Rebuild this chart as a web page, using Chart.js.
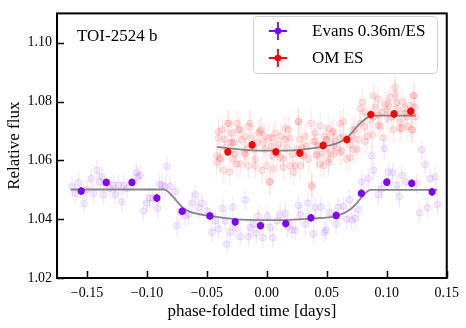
<!DOCTYPE html>
<html>
<head>
<meta charset="utf-8">
<script src="https://cdn.jsdelivr.net/npm/chart.js@4"></script>
<style>
  html, body { margin: 0; padding: 0; background: #fff; }
  #wrap { width: 466px; height: 328px; }
</style>
</head>
<body>
<div id="wrap"><canvas id="lc" width="466" height="328"></canvas></div>
<script>
// phase-folded light curves

// Evans 0.36m, unbinned
const evansTime = [-0.1625, -0.1597, -0.1570, -0.1523, -0.1500, -0.1464, -0.1445, -0.1417, -0.1395, -0.1375,
  -0.1361, -0.1306, -0.1278, -0.1264, -0.1236, -0.1209, -0.1195, -0.1167, -0.1089, -0.1078,
  -0.1056, -0.1028, -0.1000, -0.0978, -0.0950, -0.0911, -0.0895, -0.0875, -0.0847, -0.0834,
  -0.0806, -0.0764, -0.0750, -0.0722, -0.0681, -0.0653, -0.0625, -0.0597, -0.0570, -0.0542,
  -0.0500, -0.0459, -0.0431, -0.0403, -0.0367, -0.0347, -0.0334, -0.0306, -0.0284, -0.0264,
  -0.0222, -0.0181, -0.0153, -0.0139, -0.0111, -0.0089, -0.0070, -0.0034, 0.0005, 0.0028,
  0.0050, 0.0083, 0.0111, 0.0153, 0.0172, 0.0208, 0.0236, 0.0264, 0.0278, 0.0320,
  0.0342, 0.0389, 0.0403, 0.0450, 0.0478, 0.0494, 0.0522, 0.0578, 0.0597, 0.0639,
  0.0666, 0.0689, 0.0708, 0.0736, 0.0764, 0.0791, 0.0847, 0.0875, 0.0889, 0.0930,
  0.0958, 0.0978, 0.1014, 0.1050, 0.1083, 0.1105, 0.1125, 0.1161, 0.1250, 0.1272,
  0.1291, 0.1319, 0.1339, 0.1361, 0.1403, 0.1422];
const evansFlux = [1.0511, 1.0488, 1.0525, 1.0453, 1.0500, 1.0538, 1.0488, 1.0566, 1.0527, 1.0544,
  1.0483, 1.0505, 1.0516, 1.0483, 1.0516, 1.0459, 1.0516, 1.0505, 1.0558, 1.0544,
  1.0549, 1.0428, 1.0455, 1.0472, 1.0472, 1.0437, 1.0519, 1.0516, 1.0511, 1.0580,
  1.0511, 1.0494, 1.0378, 1.0428, 1.0411, 1.0416, 1.0455, 1.0483, 1.0439, 1.0455,
  1.0428, 1.0356, 1.0394, 1.0367, 1.0436, 1.0394, 1.0315, 1.0356, 1.0441, 1.0372,
  1.0341, 1.0466, 1.0341, 1.0372, 1.0383, 1.0352, 1.0411, 1.0337, 1.0411, 1.0372,
  1.0337, 1.0394, 1.0414, 1.0419, 1.0374, 1.0363, 1.0363, 1.0447, 1.0416, 1.0383,
  1.0455, 1.0350, 1.0439, 1.0441, 1.0356, 1.0363, 1.0422, 1.0383, 1.0441, 1.0444,
  1.0400, 1.0466, 1.0397, 1.0403, 1.0433, 1.0527, 1.0538, 1.0616, 1.0566, 1.0483,
  1.0503, 1.0640, 1.0560, 1.0558, 1.0516, 1.0477, 1.0549, 1.0527, 1.0522, 1.0422,
  1.0636, 1.0585, 1.0439, 1.0538, 1.0544, 1.0450];
const evansErr = 0.0035;

// Evans 0.36m, binned
const evansBinTime = [-0.1548, -0.1339, -0.1125, -0.0917, -0.0706, -0.0475, -0.0264, -0.0053,
  0.0158, 0.0367, 0.0578, 0.0788, 0.1000, 0.1208, 0.1378];
const evansBinFlux = [1.0496, 1.0525, 1.0525, 1.0472, 1.0427, 1.0411, 1.0391, 1.0378,
  1.0385, 1.0405, 1.0413, 1.0488, 1.0526, 1.0522, 1.0493];
const binErr = 0.0013;

// Evans transit model
const evansModelTime = [-0.1637, -0.0856, -0.0800, -0.0750, -0.0695, -0.0639, -0.0473, -0.0264,
  -0.0056, 0.0153, 0.0361, 0.0583, 0.0694, 0.0763, 0.0819, 0.0861, 0.1422];
const evansModelFlux = [1.0501, 1.0501, 1.0484, 1.0461, 1.0437, 1.0425, 1.0411, 1.0400,
  1.0397, 1.0397, 1.0402, 1.0411, 1.0433, 1.0461, 1.0488, 1.0500, 1.0500];

// OM ES, unbinned
const omTime = [-0.0417, -0.0403, -0.0389, -0.0370, -0.0353, -0.0348, -0.0325, -0.0306, -0.0292, -0.0270,
  -0.0264, -0.0250, -0.0236, -0.0222, -0.0209, -0.0186, -0.0181, -0.0167, -0.0148, -0.0125,
  -0.0111, -0.0098, -0.0084, -0.0070, -0.0048, -0.0028, -0.0014, 0.0000, 0.0019, 0.0036,
  0.0042, 0.0069, 0.0083, 0.0097, 0.0119, 0.0139, 0.0153, 0.0167, 0.0180, 0.0194,
  0.0214, 0.0236, 0.0250, 0.0264, 0.0278, 0.0292, 0.0319, 0.0333, 0.0347, 0.0369,
  0.0389, 0.0403, 0.0417, 0.0430, 0.0444, 0.0464, 0.0480, 0.0500, 0.0514, 0.0542,
  0.0556, 0.0417, -0.0417, -0.0311, -0.0281, -0.0153, -0.0042, 0.0022, 0.0055, 0.0139,
  0.0222, 0.0278, 0.0375, 0.0305, 0.0472, 0.0611, 0.0722,
  0.0500, 0.0514, 0.0527, 0.0555, 0.0569, 0.0583, 0.0611, 0.0625, 0.0639, 0.0666,
  0.0694, 0.0708, 0.0722, 0.0750, 0.0764, 0.0778, 0.0797, 0.0814, 0.0819, 0.0841,
  0.0861, 0.0880, 0.0889, 0.0903, 0.0925, 0.0930, 0.0944, 0.0964, 0.0986, 0.1000,
  0.1008, 0.1027, 0.1041, 0.1055, 0.1069, 0.1083, 0.1091, 0.1111, 0.1125, 0.1130,
  0.1152, 0.1166, 0.1175, 0.1194, 0.1208, 0.1214, 0.1230, 0.1236, 0.1241,
  -0.0403, -0.0389, -0.0361, -0.0320, -0.0292, -0.0250, -0.0222, -0.0181, -0.0139, -0.0098,
  -0.0056, -0.0014, 0.0028, 0.0055, 0.0111, 0.0153, 0.0194, 0.0264, 0.0305, 0.0375,
  0.0403, 0.0444, 0.0514, 0.0555, 0.0611, 0.0639, 0.0694, 0.0736, 0.0778, 0.0819,
  0.0889, 0.0930, 0.0972, 0.1014, 0.1069, 0.1111, 0.1153, 0.1208, 0.1222];
const omFlux = [1.0615, 1.0676, 1.0610, 1.0704, 1.0671, 1.0643, 1.0726, 1.0660, 1.0693, 1.0662,
  1.0621, 1.0726, 1.0704, 1.0588, 1.0671, 1.0626, 1.0682, 1.0638, 1.0715, 1.0676,
  1.0638, 1.0604, 1.0660, 1.0693, 1.0704, 1.0660, 1.0682, 1.0582, 1.0676, 1.0649,
  1.0615, 1.0693, 1.0621, 1.0654, 1.0682, 1.0604, 1.0671, 1.0643, 1.0704, 1.0676,
  1.0621, 1.0582, 1.0638, 1.0732, 1.0671, 1.0643, 1.0682, 1.0649, 1.0604, 1.0726,
  1.0665, 1.0693, 1.0621, 1.0649, 1.0717, 1.0626, 1.0682, 1.0671, 1.0604, 1.0693,
  1.0649, 1.0615, 1.0593, 1.0560, 1.0604, 1.0582, 1.0566, 1.0527, 1.0571, 1.0577,
  1.0560, 1.0582, 1.0516, 1.0615, 1.0582, 1.0626, 1.0637,
  1.0671, 1.0593, 1.0626, 1.0698, 1.0665, 1.0643, 1.0726, 1.0632, 1.0682, 1.0604,
  1.0654, 1.0682, 1.0704, 1.0638, 1.0671, 1.0726, 1.0798, 1.0715, 1.0765, 1.0682,
  1.0737, 1.0687, 1.0748, 1.0781, 1.0809, 1.0754, 1.0715, 1.0765, 1.0792, 1.0770,
  1.0743, 1.0815, 1.0748, 1.0704, 1.0848, 1.0798, 1.0776, 1.0731, 1.0709, 1.0798,
  1.0759, 1.0748, 1.0715, 1.0787, 1.0759, 1.0704, 1.0820, 1.0781, 1.0748,
  1.0698, 1.0604, 1.0566, 1.0726, 1.0660, 1.0588, 1.0704, 1.0621, 1.0726, 1.0582,
  1.0698, 1.0637, 1.0527, 1.0676, 1.0610, 1.0709, 1.0582, 1.0732, 1.0621, 1.0510,
  1.0665, 1.0588, 1.0709, 1.0621, 1.0676, 1.0732, 1.0610, 1.0704, 1.0776, 1.0665,
  1.0820, 1.0720, 1.0676, 1.0792, 1.0826, 1.0709, 1.0776, 1.0704, 1.0820];
const omErr = 0.0045;

// OM ES, binned
const omBinTime = [-0.0325, -0.0123, 0.0075, 0.0275, 0.0469, 0.0667, 0.0867, 0.1061, 0.1200];
const omBinFlux = [1.0629, 1.0653, 1.0629, 1.0625, 1.0651, 1.0671, 1.0756, 1.0758, 1.0767];

// OM ES model
const omModelTime = [-0.0417, -0.0153, 0.0042, 0.0263, 0.0458, 0.0569, 0.0667, 0.0763, 0.0847, 0.0875, 0.1242];
const omModelFlux = [1.0646, 1.0635, 1.0633, 1.0636, 1.0646, 1.0656, 1.0676, 1.0720, 1.0748, 1.0752, 1.0752];

const timeTicks = [-0.15, -0.10, -0.05, 0.00, 0.05, 0.10, 0.15];
const fluxTicks = [1.02, 1.04, 1.06, 1.08, 1.10];
const planetName = 'TOI-2524 b';

const PURPLE = '#8000ff';
const RED = '#ff0000';
const SERIF = '"Liberation Serif", "Times New Roman", serif';

function pts(xs, ys) {
  return xs.map((x, i) => ({ x: x, y: ys[i] }));
}

// vertical error bars, drawn through the chart scales
const errorBars = {
  id: 'errorBars',
  drawBars(chart, which) {
    const ctx = chart.ctx;
    const xs = chart.scales.x, ys = chart.scales.y;
    ctx.save();
    chart.data.datasets.forEach(ds => {
      if (!ds.yErr || ds.errLayer !== which) return;
      ctx.strokeStyle = ds.errColor;
      ctx.lineWidth = ds.errWidth;
      ds.data.forEach(p => {
        const px = xs.getPixelForValue(p.x);
        ctx.beginPath();
        ctx.moveTo(px, ys.getPixelForValue(p.y - ds.yErr));
        ctx.lineTo(px, ys.getPixelForValue(p.y + ds.yErr));
        ctx.stroke();
      });
    });
    ctx.restore();
  },
  beforeDatasetsDraw(chart) { this.drawBars(chart, 'back'); },
  afterDatasetsDraw(chart) { this.drawBars(chart, 'front'); }
};

// frame, inward ticks, legend and label
const decorations = {
  id: 'decorations',
  afterDraw(chart) {
    const ctx = chart.ctx;
    const a = chart.chartArea;
    const xs = chart.scales.x, ys = chart.scales.y;
    ctx.save();
    ctx.strokeStyle = '#000';
    ctx.lineWidth = 1.5;
    xs.ticks.forEach(t => {
      const px = Math.round(xs.getPixelForValue(t.value)) + 0.5;
      ctx.beginPath(); ctx.moveTo(px, a.bottom); ctx.lineTo(px, a.bottom - 7); ctx.stroke();
    });
    ys.ticks.forEach(t => {
      const py = Math.round(ys.getPixelForValue(t.value)) + 0.5;
      ctx.beginPath(); ctx.moveTo(a.left, py); ctx.lineTo(a.left + 7, py); ctx.stroke();
    });
    ctx.lineWidth = 2;
    ctx.strokeRect(a.left, a.top, a.right - a.left, a.bottom - a.top);

    // planet label
    ctx.fillStyle = '#000';
    ctx.font = '17px ' + SERIF;
    ctx.textAlign = 'left';
    ctx.textBaseline = 'middle';
    ctx.fillText(planetName, a.left + 20, a.top + 23);

    // legend
    const bx = 253, by = 16, bw = 184, bh = 57;
    ctx.beginPath();
    ctx.roundRect(bx + 0.5, by + 0.5, bw, bh, 4);
    ctx.fillStyle = 'rgba(255,255,255,0.8)';
    ctx.fill();
    ctx.strokeStyle = '#d0d0d0';
    ctx.lineWidth = 1;
    ctx.stroke();
    const entries = chart.data.datasets.filter(d => d.legend);
    entries.forEach((d, i) => {
      const cx = 278, cy = 31 + i * 27;
      ctx.strokeStyle = d.backgroundColor;
      ctx.lineWidth = 1.8;
      ctx.beginPath();
      ctx.moveTo(cx - 9, cy); ctx.lineTo(cx + 9, cy);
      ctx.moveTo(cx, cy - 9); ctx.lineTo(cx, cy + 9);
      ctx.stroke();
      ctx.fillStyle = d.backgroundColor;
      ctx.beginPath(); ctx.arc(cx, cy, 3.3, 0, Math.PI * 2); ctx.fill();
      ctx.fillStyle = '#000';
      ctx.font = '17px ' + SERIF;
      ctx.fillText(d.label, 312, cy + 1);
    });
    ctx.restore();
  }
};

new Chart(document.getElementById('lc'), {
  type: 'scatter',
  data: {
    datasets: [
      {
        label: 'Evans 0.36m/ES', legend: true,
        data: pts(evansBinTime, evansBinFlux),
        backgroundColor: PURPLE, borderWidth: 0, pointRadius: 3.6,
        yErr: binErr, errColor: PURPLE, errWidth: 2, errLayer: 'front', order: 0
      },
      {
        label: 'OM ES', legend: true,
        data: pts(omBinTime, omBinFlux),
        backgroundColor: RED, borderWidth: 0, pointRadius: 3.6,
        yErr: binErr, errColor: RED, errWidth: 2, errLayer: 'front', order: 0
      },
      {
        label: 'Evans model', type: 'line',
        data: pts(evansModelTime, evansModelFlux),
        borderColor: 'rgba(128,128,128,0.95)', borderWidth: 1.8, pointRadius: 0,
        cubicInterpolationMode: 'monotone', fill: false, order: 1
      },
      {
        label: 'OM model', type: 'line',
        data: pts(omModelTime, omModelFlux),
        borderColor: 'rgba(128,128,128,0.95)', borderWidth: 1.8, pointRadius: 0,
        cubicInterpolationMode: 'monotone', fill: false, order: 1
      },
      {
        label: 'OM ES data',
        data: pts(omTime, omFlux),
        backgroundColor: 'rgba(255,0,0,0.09)', borderColor: 'rgba(255,0,0,0.12)',
        borderWidth: 1, pointRadius: 3.3,
        yErr: omErr, errColor: 'rgba(255,0,0,0.08)', errWidth: 1.5, errLayer: 'back', order: 2
      },
      {
        label: 'Evans data',
        data: pts(evansTime, evansFlux),
        backgroundColor: 'rgba(128,0,255,0.08)', borderColor: 'rgba(128,0,255,0.12)',
        borderWidth: 1, pointRadius: 3.3,
        yErr: evansErr, errColor: 'rgba(128,0,255,0.09)', errWidth: 1.5, errLayer: 'back', order: 3
      }
    ]
  },
  options: {
    responsive: false,
    animation: false,
    layout: { padding: { left: 0, right: 19, top: 7, bottom: 0 } },
    plugins: { legend: { display: false }, tooltip: { enabled: false } },
    scales: {
      x: {
        type: 'linear', min: -0.175, max: 0.15,
        afterFit(s) { s.height = 50; },
        afterBuildTicks(s) { s.ticks = timeTicks.map(v => ({ value: v })); },
        grid: { display: false, drawTicks: false },
        border: { display: false },
        ticks: {
          padding: 7, color: '#000', font: { family: SERIF, size: 14 },
          maxRotation: 0,
          callback: v => v.toFixed(2).replace('-', '\u2212')
        },
        title: { display: true, text: 'phase-folded time [days]', color: '#000',
          font: { family: SERIF, size: 17 }, padding: { top: 0, bottom: 6 } }
      },
      y: {
        type: 'linear', min: 1.02, max: 1.11,
        afterFit(s) { s.width = 57; },
        afterBuildTicks(s) { s.ticks = fluxTicks.map(v => ({ value: v })); },
        grid: { display: false, drawTicks: false },
        border: { display: false },
        ticks: {
          padding: 5, color: '#000', font: { family: SERIF, size: 14 },
          callback: v => v.toFixed(2)
        },
        title: { display: true, text: 'Relative flux', color: '#000',
          font: { family: SERIF, size: 17 }, padding: { top: 4, bottom: 0 } }
      }
    }
  },
  plugins: [errorBars, decorations]
});
</script>
</body>
</html>
